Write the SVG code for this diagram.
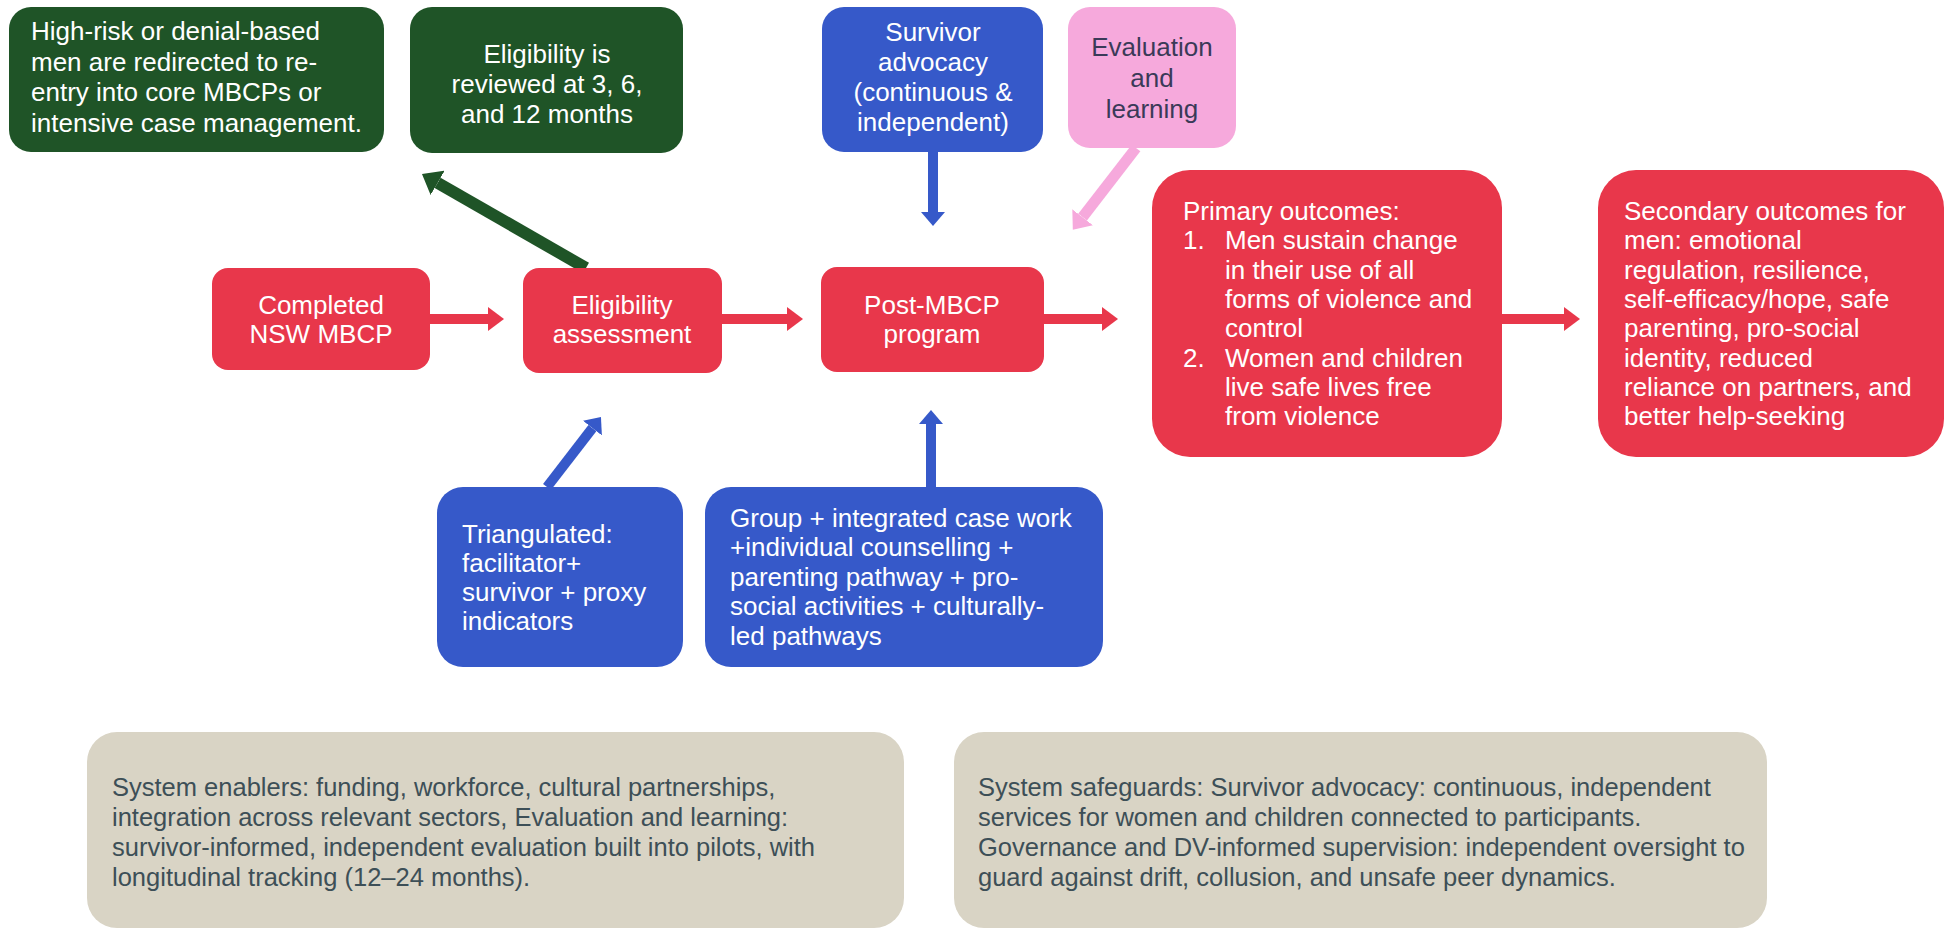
<svg xmlns="http://www.w3.org/2000/svg" width="1948" height="930" viewBox="0 0 1948 930">
<defs>
<style>
.t{font-family:"Liberation Sans",Arial,sans-serif;font-size:26px;fill:#ffffff}
.c{text-anchor:middle}
.dk{fill:#3a3a58}
.b{font-family:"Liberation Sans",Arial,sans-serif;font-size:25.5px;fill:#3d4f57}
.red{fill:#e8374b}
.grn{fill:#1f5427}
.blu{fill:#3659c9}
.pnk{fill:#f6a9dc}
.bge{fill:#d9d4c5}
</style>
<marker id="mr" viewBox="0 0 16 24" refX="0" refY="12" markerWidth="16" markerHeight="24" markerUnits="userSpaceOnUse" orient="auto"><path d="M0,0 L16,12 L0,24 z" fill="#e8374b"/></marker>
<marker id="mg" viewBox="0 0 18 28" refX="0" refY="14" markerWidth="18" markerHeight="28" markerUnits="userSpaceOnUse" orient="auto"><path d="M0,0 L18,14 L0,28 z" fill="#1f5427"/></marker>
<marker id="mb" viewBox="0 0 14 24" refX="0" refY="12" markerWidth="14" markerHeight="24" markerUnits="userSpaceOnUse" orient="auto"><path d="M0,0 L14,12 L0,24 z" fill="#3659c9"/></marker>
<marker id="mp" viewBox="0 0 16 26" refX="0" refY="13" markerWidth="16" markerHeight="26" markerUnits="userSpaceOnUse" orient="auto"><path d="M0,0 L16,13 L0,26 z" fill="#f6a9dc"/></marker>
</defs>
<rect width="1948" height="930" fill="#ffffff"/>

<g id="connectors">
<line x1="430" y1="319" x2="488" y2="319" stroke="#e8374b" stroke-width="10" marker-end="url(#mr)"/>
<line x1="722" y1="319" x2="787" y2="319" stroke="#e8374b" stroke-width="10" marker-end="url(#mr)"/>
<line x1="1044" y1="319" x2="1102" y2="319" stroke="#e8374b" stroke-width="10" marker-end="url(#mr)"/>
<line x1="1502" y1="319" x2="1564" y2="319" stroke="#e8374b" stroke-width="10" marker-end="url(#mr)"/>
<line x1="586" y1="268" x2="437.6" y2="182.9" stroke="#1f5427" stroke-width="12" marker-end="url(#mg)"/>
<line x1="547" y1="487" x2="592.4" y2="428.1" stroke="#3659c9" stroke-width="10" marker-end="url(#mb)"/>
<line x1="931" y1="487" x2="931" y2="424" stroke="#3659c9" stroke-width="10" marker-end="url(#mb)"/>
<line x1="933" y1="152" x2="933" y2="212" stroke="#3659c9" stroke-width="10" marker-end="url(#mb)"/>
<line x1="1136" y1="148" x2="1082.6" y2="217.2" stroke="#f6a9dc" stroke-width="11" marker-end="url(#mp)"/>
</g>

<g id="redirect">
<rect class="grn" x="9" y="7" width="375" height="145" rx="22"/>
<text class="t" x="31" y="40">High-risk or denial-based</text>
<text class="t" x="31" y="70.5">men are redirected to re-</text>
<text class="t" x="31" y="101">entry into core MBCPs or</text>
<text class="t" x="31" y="131.5">intensive case management.</text>
</g>

<g id="review">
<rect class="grn" x="410" y="7" width="273" height="146" rx="22"/>
<text class="t c" x="547" y="63">Eligibility is</text>
<text class="t c" x="547" y="93">reviewed at 3, 6,</text>
<text class="t c" x="547" y="123">and 12 months</text>
</g>

<g id="advocacy">
<rect class="blu" x="822" y="7" width="221" height="145" rx="22"/>
<text class="t c" x="933" y="41">Survivor</text>
<text class="t c" x="933" y="71">advocacy</text>
<text class="t c" x="933" y="101">(continuous &amp;</text>
<text class="t c" x="933" y="131">independent)</text>
</g>

<g id="evaluation">
<rect class="pnk" x="1068" y="7" width="168" height="141" rx="22"/>
<text class="t c dk" x="1152" y="56">Evaluation</text>
<text class="t c dk" x="1152" y="87">and</text>
<text class="t c dk" x="1152" y="118">learning</text>
</g>

<g id="completed">
<rect class="red" x="212" y="268" width="218" height="102" rx="16"/>
<text class="t c" x="321" y="314">Completed</text>
<text class="t c" x="321" y="343">NSW MBCP</text>
</g>

<g id="eligibility">
<rect class="red" x="523" y="268" width="199" height="105" rx="16"/>
<text class="t c" x="622" y="314">Eligibility</text>
<text class="t c" x="622" y="343">assessment</text>
</g>

<g id="post">
<rect class="red" x="821" y="267" width="223" height="105" rx="16"/>
<text class="t c" x="932" y="314">Post-MBCP</text>
<text class="t c" x="932" y="343">program</text>
</g>

<g id="primary">
<rect class="red" x="1152" y="170" width="350" height="287" rx="38"/>
<text class="t" x="1183" y="220">Primary outcomes:</text>
<text class="t" x="1183" y="249">1.</text>
<text class="t" x="1225" y="249">Men sustain change</text>
<text class="t" x="1225" y="279">in their use of all</text>
<text class="t" x="1225" y="308">forms of violence and</text>
<text class="t" x="1225" y="337">control</text>
<text class="t" x="1183" y="367">2.</text>
<text class="t" x="1225" y="367">Women and children</text>
<text class="t" x="1225" y="396">live safe lives free</text>
<text class="t" x="1225" y="425">from violence</text>
</g>

<g id="secondary">
<rect class="red" x="1598" y="170" width="346" height="287" rx="38"/>
<text class="t" x="1624" y="220">Secondary outcomes for</text>
<text class="t" x="1624" y="249">men: emotional</text>
<text class="t" x="1624" y="279">regulation, resilience,</text>
<text class="t" x="1624" y="308">self-efficacy/hope, safe</text>
<text class="t" x="1624" y="337">parenting, pro-social</text>
<text class="t" x="1624" y="367">identity, reduced</text>
<text class="t" x="1624" y="396">reliance on partners, and</text>
<text class="t" x="1624" y="425">better help-seeking</text>
</g>

<g id="triangulated">
<rect class="blu" x="437" y="487" width="246" height="180" rx="26"/>
<text class="t" x="462" y="543">Triangulated:</text>
<text class="t" x="462" y="572">facilitator+</text>
<text class="t" x="462" y="601">survivor + proxy</text>
<text class="t" x="462" y="630">indicators</text>
</g>

<g id="components">
<rect class="blu" x="705" y="487" width="398" height="180" rx="26"/>
<text class="t" x="730" y="527">Group + integrated case work</text>
<text class="t" x="730" y="556">+individual counselling +</text>
<text class="t" x="730" y="586">parenting pathway + pro-</text>
<text class="t" x="730" y="615">social activities + culturally-</text>
<text class="t" x="730" y="645">led pathways</text>
</g>

<g id="enablers">
<rect class="bge" x="87" y="732" width="817" height="196" rx="30"/>
<text class="b" x="112" y="796">System enablers: funding, workforce, cultural partnerships,</text>
<text class="b" x="112" y="826">integration across relevant sectors, Evaluation and learning:</text>
<text class="b" x="112" y="856">survivor-informed, independent evaluation built into pilots, with</text>
<text class="b" x="112" y="886">longitudinal tracking (12–24 months).</text>
</g>

<g id="safeguards">
<rect class="bge" x="954" y="732" width="813" height="196" rx="30"/>
<text class="b" x="978" y="796">System safeguards: Survivor advocacy: continuous, independent</text>
<text class="b" x="978" y="826">services for women and children connected to participants.</text>
<text class="b" x="978" y="856">Governance and DV-informed supervision: independent oversight to</text>
<text class="b" x="978" y="886">guard against drift, collusion, and unsafe peer dynamics.</text>
</g>
</svg>
